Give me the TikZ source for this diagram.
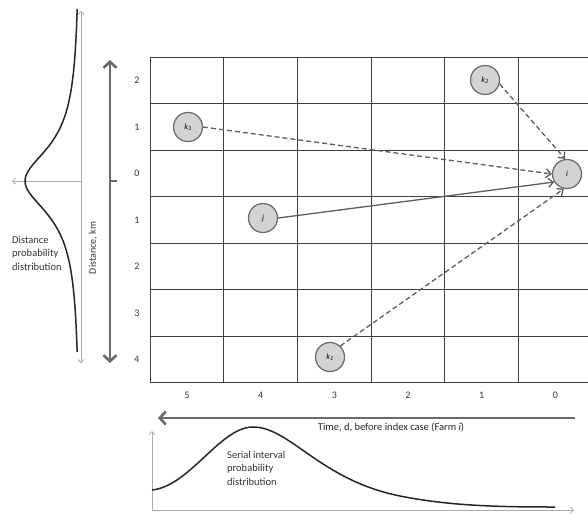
\documentclass[tikz,border=0pt]{standalone}
\usepackage{fontspec}
\setmainfont{Carlito}
\usetikzlibrary{arrows.meta}
\definecolor{gridc}{HTML}{404040}
\definecolor{nodefill}{HTML}{D3D3D3}
\definecolor{nodedraw}{HTML}{6E6E6E}
\definecolor{linkc}{HTML}{5E5E5E}
\definecolor{bigc}{HTML}{6A6A6A}
\definecolor{lightc}{HTML}{ABABAB}
\begin{document}
\begin{tikzpicture}[x=1pt,y=-1pt,
  farm/.style={circle,draw=nodedraw,fill=nodefill,line width=1.3pt,minimum size=29pt,inner sep=0pt,font=\fontsize{8}{9}\selectfont\itshape},
  gridline/.style={draw=gridc,line width=1pt},
  link/.style={draw=linkc,line width=1.3pt,-{Straight Barb[length=5pt,width=9pt]}},
  dashlink/.style={link,dash pattern=on 5pt off 3pt},
  bigarrow/.style={draw=bigc,line width=2.6pt},
  lightaxis/.style={draw=lightc,line width=0.8pt},
  lbl/.style={font=\fontsize{10}{12}\selectfont,text=black!80,inner sep=0pt},
  tlbl/.style={font=\fontsize{10.5}{12}\selectfont,text=black!85,inner sep=0pt},
  desc/.style={font=\fontsize{10.5}{13.5}\selectfont,text=black!80,align=left,inner sep=0pt}
]
\useasboundingbox (0,0) rectangle (588,514);
% grid
\foreach \k in {0,...,5} \draw[gridline] ({150+73.7*\k},57) -- ({150+73.7*\k},383);
\foreach \k in {0,...,7} \draw[gridline] (150,{57+46.57*\k}) -- (588,{57+46.57*\k});
% row labels
\foreach \k/\t in {0/2,1/1,2/0,3/1,4/2,5/3,6/4}
  \node[lbl] (r\k) at (137,{80.3+46.57*\k}) {\t};
% column labels
\foreach \k/\t in {0/5,1/4,2/3,3/2,4/1,5/0}
  \node[lbl] (c\k) at ({186.9+73.7*\k},395) {\t};
% vertical distance arrow
\coordinate (vt) at (110,60);
\coordinate (vb) at (110,363);
\draw[bigarrow,{Straight Barb[length=6pt,width=13pt]}-{Straight Barb[length=6pt,width=13pt]}] (vt) -- (vb);
\coordinate (tk0) at (110,181);
\coordinate (tk1) at (117,181);
\draw[draw=bigc,line width=1.2pt] (tk0) -- (tk1);
\node[lbl,rotate=90] (dkm) at (93,248) {Distance, km};
% distance distribution
\coordinate (la0) at (81,363);
\coordinate (la1) at (81,11);
\draw[lightaxis,{Straight Barb[length=3pt,width=6pt]}-{Straight Barb[length=3pt,width=6pt]}] (la0) -- (la1);
\coordinate (lh0) at (81,181);
\coordinate (lh1) at (12,181);
\draw[lightaxis,-{Straight Barb[length=3pt,width=6pt]}] (lh0) -- (lh1);
\draw[line width=1.5pt,black!85] plot[domain=-172:171,samples=120] ({80-55/(1+(\x/40)^2)},{181+\x});
\node[desc,anchor=north west] (dpd) at (12,236) {Distance\\probability\\distribution};
% time arrow
\coordinate (ta0) at (575,418);
\coordinate (ta1) at (158,418);
\draw[bigarrow,-{Straight Barb[length=6pt,width=13pt]}] (ta0) -- (ta1);
\node[tlbl] (tlab) at (391,427) {Time, d, before index case (Farm \textit{i})};
% serial interval distribution
\coordinate (so) at (152,510);
\coordinate (sy) at (152,431);
\coordinate (sx) at (574,510);
\draw[lightaxis,-{Straight Barb[length=3pt,width=6pt]}] (so) -- (sy);
\draw[lightaxis,-{Straight Barb[length=3pt,width=6pt]}] (so) -- (sx);
\draw[line width=1.5pt,black!85] (152,490) .. controls (190,486) and (220,427) .. (253,427)
  .. controls (290,427) and (320,480) .. (400,496)
  .. controls (450,506) and (500,507) .. (555,507);
\node[desc,anchor=north west] (sip) at (227,451) {Serial interval\\probability\\distribution};
% farms
\node[farm] (k3) at (188,127) {k\textsubscript{3}};
\node[farm] (k2) at (485,80) {k\textsubscript{2}};
\node[farm] (i) at (567,174) {i};
\node[farm] (j) at (263,218) {j};
\node[farm] (k1) at (330,357) {k\textsubscript{1}};
% links
\draw[dashlink] (k3.east) -- (i.west);
\draw[dashlink] (k2.-15) -- (i.97);
\draw[link] (j.east) -- (i.212);
\draw[dashlink] (k1.47) -- (i.258);
\end{tikzpicture}
\end{document}
